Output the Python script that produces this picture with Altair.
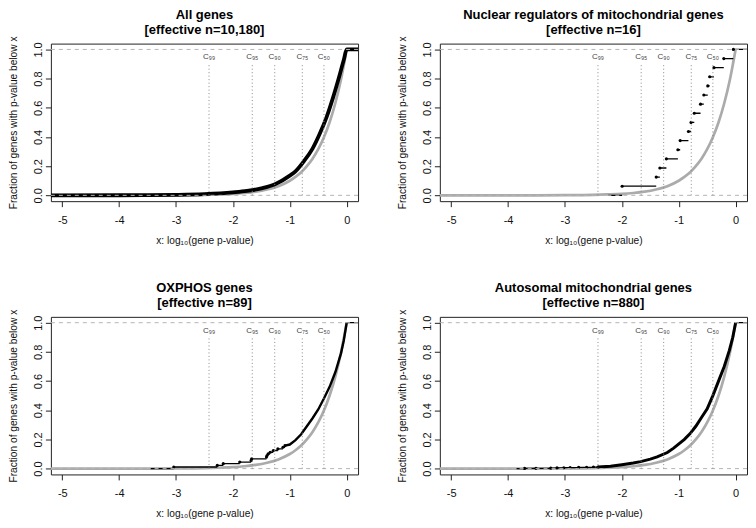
import altair as alt
import pandas as pd

FONT = "Liberation Sans"
W, H = 308, 158

# ---- panel titles ----
TITLES = [
    ("All genes", "[effective n=10,180]"),
    ("Nuclear regulators of mitochondrial genes", "[effective n=16]"),
    ("OXPHOS genes", "[effective n=89]"),
    ("Autosomal mitochondrial genes", "[effective n=880]"),
]

# ---- shared reference elements ----
C_X = [-2.42, -1.66, -1.265, -0.78, -0.40]
C_LABELS = ["C₉₉", "C₉₅", "C₉₀", "C₇₅", "C₅₀"]
H_LINES = [0.0, 1.0]

# expected (null) curve
GRAY_X = [-5.2, -4.5, -4.0, -3.5, -3.0, -2.75, -2.5, -2.25, -2.0, -1.8, -1.6, -1.4,
          -1.2, -1.0, -0.9, -0.8, -0.7, -0.6, -0.5, -0.4, -0.3, -0.2, -0.1, 0.0]
GRAY_Y = [0.0, 0.0, 0.0001, 0.0003, 0.001, 0.0018, 0.003, 0.006, 0.010, 0.016, 0.025, 0.040,
          0.063, 0.100, 0.126, 0.158, 0.200, 0.251, 0.316, 0.398, 0.501, 0.631, 0.794, 1.0]

# panel 1: all genes
P1_X = [-5.2, -4.0, -3.5, -3.0, -2.5, -2.0, -1.75, -1.5, -1.25, -1.0, -0.9, -0.75,
        -0.6, -0.47, -0.35, -0.24, -0.12, -0.05, 0.0, 0.2]
P1_Y = [0.0, 0.0005, 0.001, 0.003, 0.008, 0.02, 0.03, 0.048, 0.078, 0.135, 0.165, 0.235,
        0.32, 0.425, 0.54, 0.67, 0.83, 0.93, 1.0, 1.0]

# panel 2: nuclear regulators (16 genes)
P2_START = -2.24
P2_KX = [-1.995, -1.396, -1.332, -1.217, -1.015, -0.975, -0.830, -0.784,
         -0.727, -0.617, -0.559, -0.490, -0.456, -0.381, -0.208, -0.040]
P2_KY = [0.0625, 0.125, 0.1875, 0.25, 0.3125, 0.375, 0.4375, 0.5,
         0.5625, 0.625, 0.6875, 0.75, 0.8125, 0.875, 0.9375, 1.0]

# panel 3: OXPHOS genes (89)
P3_START = -3.45
P3_KX = [-3.04, -2.275, -2.17, -1.88, -1.68, -1.67, -1.41, -1.40, -1.38, -1.345,
         -1.29, -1.21, -1.12, -1.085]
P3_KY = [0.011, 0.022, 0.034, 0.045, 0.056, 0.067, 0.079, 0.090, 0.101, 0.112,
         0.124, 0.135, 0.146, 0.157]
P3_DX = [-1.085, -1.0, -0.9, -0.8, -0.7, -0.6, -0.5, -0.4, -0.3, -0.2, -0.1, -0.05, 0.0]
P3_DY = [0.157, 0.165, 0.195, 0.235, 0.29, 0.345, 0.405, 0.48, 0.56, 0.66, 0.79, 0.88, 1.0]

# panel 4: autosomal mitochondrial genes (880)
P4_START = -3.85
P4_KX = [-3.71, -3.51, -3.25, -3.14, -3.02, -2.91, -2.76, -2.62, -2.50, -2.42]
P4_KY = [0.001, 0.002, 0.003, 0.005, 0.006, 0.007, 0.008, 0.009, 0.010, 0.011]
P4_DX = [-2.42, -2.2, -2.0, -1.8, -1.67, -1.5, -1.38, -1.2, -1.09, -0.9, -0.8, -0.7,
         -0.6, -0.5, -0.4, -0.28, -0.2, -0.11, -0.05, 0.0]
P4_DY = [0.011, 0.016, 0.027, 0.038, 0.048, 0.065, 0.08, 0.11, 0.14, 0.2, 0.24, 0.29,
         0.35, 0.41, 0.50, 0.62, 0.70, 0.81, 0.90, 1.0]

X_MIN, X_MAX = -5.2, 0.2

XS = alt.Scale(domain=[X_MIN, X_MAX], nice=False, zero=False)
YS = alt.Scale(domain=[-0.04, 1.04], nice=False, zero=False)

XAX = alt.Axis(values=[-5, -4, -3, -2, -1, 0], labelExpr="'' + datum.value",
               tickSize=5.5, labelPadding=8, domain=False, grid=False, labelFlush=False,
               title="x: log₁₀(gene p-value)", titlePadding=10,
               labelFontSize=11, titleFontSize=10.2, titleFontWeight="normal",
               labelFont=FONT, titleFont=FONT, tickColor="#222", labelColor="#111",
               titleColor="#111")
YAX = alt.Axis(values=[0, 0.2, 0.4, 0.6, 0.8, 1.0], format=".1f", labelAngle=270,
               labelAlign="center", labelBaseline="bottom", tickSize=5.5, labelPadding=2,
               domain=False, grid=False, labelFlush=False,
               title="Fraction of genes with p-value below x",
               titleX=-42, titleY=H / 2, titleAngle=270, titleBaseline="top",
               titleAlign="center", labelFontSize=11, titleFontSize=10.2,
               titleFontWeight="normal", labelFont=FONT, titleFont=FONT,
               tickColor="#222", labelColor="#111", titleColor="#111")


def X(field="x"):
    return alt.X(f"{field}:Q", scale=XS, axis=XAX)


def Y(field="y"):
    return alt.Y(f"{field}:Q", scale=YS, axis=YAX)


def seg_df(start, kx, ky, end=X_MAX):
    xs = [start] + list(kx)
    ys = [0.0] + list(ky)
    x2s = list(kx) + [end]
    return pd.DataFrame({"x": xs, "x2": x2s, "y": ys})


def base_layers():
    gray = alt.Chart(pd.DataFrame({"x": GRAY_X, "y": GRAY_Y})).mark_line(
        color="#ABABAB", strokeWidth=2.7, interpolate="monotone", clip=True
    ).encode(x=X(), y=Y())
    return [gray]


def top_layers(title):
    hdf = pd.DataFrame({"x": [X_MIN] * 2, "x2": [X_MAX] * 2, "y": H_LINES})
    hl = alt.Chart(hdf).mark_rule(color="#B5B5B5", strokeDash=[4, 4], strokeWidth=1,
                                  clip=True).encode(x=X(), x2="x2:Q", y=Y())
    vdf = pd.DataFrame({"x": C_X, "y": [0.0] * 5, "y2": [0.905] * 5})
    vl = alt.Chart(vdf).mark_rule(color="#8A8A8A", strokeDash=[1, 2.5], strokeWidth=1).encode(
        x=X(), y=Y(), y2="y2:Q")
    tdf = pd.DataFrame({"x": C_X, "y": [0.945] * 5, "t": C_LABELS})
    tl = alt.Chart(tdf).mark_text(fontSize=8, font=FONT, color="#444", align="center",
                                  baseline="middle").encode(x=X(), y=Y(), text="t:N")
    t1 = alt.Chart(pd.DataFrame({"t": [title[0]]})).mark_text(
        fontSize=13, fontWeight="bold", font=FONT, color="#000", align="center",
        baseline="alphabetic").encode(x=alt.value(W / 2), y=alt.value(-24.5), text="t:N")
    t2 = alt.Chart(pd.DataFrame({"t": [title[1]]})).mark_text(
        fontSize=13, fontWeight="bold", font=FONT, color="#000", align="center",
        baseline="alphabetic").encode(x=alt.value(W / 2), y=alt.value(-9.5), text="t:N")
    return [hl, vl, tl, t1, t2]


def panel(title, mid):
    layers = base_layers() + mid + top_layers(title)
    return alt.layer(*layers).properties(width=W, height=H)


def rule(df, width=1.3):
    return alt.Chart(df).mark_rule(color="#000", strokeWidth=width, clip=True).encode(
        x=X(), x2="x2:Q", y=Y())


def dots(xs, ys):
    return alt.Chart(pd.DataFrame({"x": xs, "y": ys})).mark_circle(
        color="#000", size=10, opacity=1).encode(x=X(), y=Y())


# panel 1
p1_mid = [alt.Chart(pd.DataFrame({"x": P1_X, "y": P1_Y})).mark_line(
    color="#000", strokeWidth=3.8, interpolate="monotone", clip=True).encode(x=X(), y=Y())]

# panel 2
p2_mid = [rule(seg_df(P2_START, P2_KX, P2_KY)), dots(P2_KX, P2_KY)]

# panel 3
top_seg = pd.DataFrame({"x": [0.0], "x2": [X_MAX], "y": [1.0]})
p3_mid = [
    rule(seg_df(P3_START, P3_KX, P3_KY, end=P3_DX[0])),
    dots(P3_KX, P3_KY),
    alt.Chart(pd.DataFrame({"x": P3_DX, "y": P3_DY})).mark_line(
        color="#000", strokeWidth=2.4).encode(x=X(), y=Y()),
    rule(top_seg),
]

# panel 4
p4_mid = [
    rule(seg_df(P4_START, P4_KX, P4_KY, end=P4_DX[0])),
    dots(P4_KX, P4_KY),
    alt.Chart(pd.DataFrame({"x": P4_DX, "y": P4_DY})).mark_line(
        color="#000", strokeWidth=3.0).encode(x=X(), y=Y()),
    rule(top_seg),
]

c1 = panel(TITLES[0], p1_mid)
c2 = panel(TITLES[1], p2_mid)
c3 = panel(TITLES[2], p3_mid)
c4 = panel(TITLES[3], p4_mid)

chart = alt.vconcat(
    alt.hconcat(c1, c2, spacing=38),
    alt.hconcat(c3, c4, spacing=38),
    spacing=35,
).properties(padding=0, background="white").configure_view(
    stroke="#222", strokeWidth=1
)

chart.save("out.html", embed_options={"renderer": "svg", "actions": False})
